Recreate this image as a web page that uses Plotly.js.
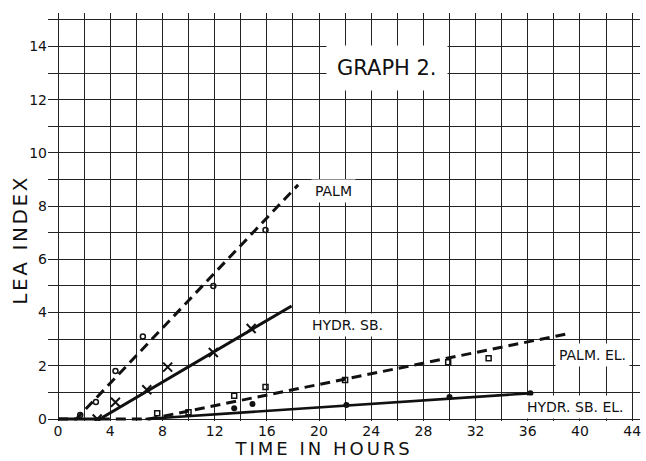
<!DOCTYPE html>
<html><head><meta charset="utf-8">
<script src="https://cdn.plot.ly/plotly-3.0.1.min.js"></script>
<style>
html,body{margin:0;padding:0;background:#fff}
#chart{width:646px;height:461px}
#chart .annotation[data-index="5"] text{letter-spacing:3px}
#chart .annotation[data-index="6"] text{letter-spacing:2.6px}
</style>
</head><body><div id="chart"></div>
<script>
// Observed points
var palmX = [1.7, 2.9, 4.4, 6.5, 11.9, 15.9];
var palmY = [0.15, 0.64, 1.8, 3.1, 5.0, 7.1];
var hydrSbX = [3.0, 4.4, 6.8, 8.4, 11.9, 14.8];
var hydrSbY = [0.0, 0.63, 1.1, 1.95, 2.5, 3.4];
var palmElX = [7.6, 10.0, 13.5, 15.9, 22.0, 29.9, 33.0];
var palmElY = [0.22, 0.25, 0.87, 1.2, 1.47, 2.13, 2.28];
var hydrSbElX = [13.5, 14.9, 22.1, 30.0, 36.2];
var hydrSbElY = [0.4, 0.56, 0.53, 0.83, 0.97];
// Fitted lines
var palmLineX = [0, 1.4, 18.4];
var palmLineY = [0, 0, 8.8];
var hydrSbLineX = [0, 3.2, 17.9];
var hydrSbLineY = [0, 0, 4.25];
var palmElLineX = [3.2, 7.0, 39.0];
var palmElLineY = [0, 0, 3.2];
var hydrSbElLineX = [6.7, 36.3];
var hydrSbElLineY = [0, 0.97];
// Ticks
var xTicks = [0, 4, 8, 12, 16, 20, 24, 28, 32, 36, 40, 44];
var xTickText = ["0", "4", "8", "12", "16", "20", "24", "28", "32", "36", "40", "44"];
var yTicks = [0, 2, 4, 6, 8, 10, 12, 14];
var yTickText = ["0", "2", "4", "6", "8", "10", "12", "14"];
// Labels
var seriesLabels = ["PALM", "HYDR. SB.", "PALM. EL.", "HYDR. SB. EL."];
var labelX = [19.4, 19.15, 38.1, 35.6];
var labelY = [8.57, 3.53, 2.4, 0.45];
var graphTitle = "GRAPH 2.";
var xTitle = "TIME IN HOURS";
var yTitle = "LEA INDEX";

var ink = "#111";
var traces = [
  {x: palmLineX, y: palmLineY, mode: "lines", line: {color: ink, width: 3, dash: "10px,6px"}},
  {x: hydrSbLineX, y: hydrSbLineY, mode: "lines", line: {color: ink, width: 3}},
  {x: palmElLineX, y: palmElLineY, mode: "lines", line: {color: ink, width: 3, dash: "10px,6px"}},
  {x: hydrSbElLineX, y: hydrSbElLineY, mode: "lines", line: {color: ink, width: 2.6}},
  {x: palmX, y: palmY, mode: "markers", marker: {symbol: "circle-open", size: 5, color: ink, line: {width: 1.5, color: ink}}},
  {x: hydrSbX, y: hydrSbY, mode: "markers", marker: {symbol: "x-thin-open", size: 9, color: ink, line: {width: 2, color: ink}}},
  {x: palmElX, y: palmElY, mode: "markers", marker: {symbol: "square-open", size: 5, color: ink, line: {width: 1.5, color: ink}}},
  {x: hydrSbElX, y: hydrSbElY, mode: "markers", marker: {symbol: "circle", size: 6, color: ink}}
];

var fontFam = "DejaVu Sans, Liberation Sans, sans-serif";
var annotations = seriesLabels.map(function(t, i) {
  return {x: labelX[i], y: labelY[i], xref: "x", yref: "y", text: t, showarrow: false,
          xanchor: "left", yanchor: "middle", bgcolor: "#fff", borderpad: 3,
          font: {family: fontFam, size: 14, color: ink}};
});
annotations.push({x: 25.2, y: 13.2, xref: "x", yref: "y", text: graphTitle, showarrow: false,
  xanchor: "center", yanchor: "middle", bgcolor: "#fff", borderpad: 10,
  font: {family: fontFam, size: 21, color: ink}});
annotations.push({x: 0.466, y: -0.068, xref: "paper", yref: "paper", text: xTitle, showarrow: false,
  xanchor: "center", yanchor: "middle", font: {family: fontFam, size: 18, color: ink}});
annotations.push({x: -0.047, y: 0.444, xref: "paper", yref: "paper", text: yTitle, showarrow: false,
  textangle: -90, xanchor: "center", yanchor: "middle", font: {family: fontFam, size: 20, color: ink}});

var layout = {
  width: 646, height: 461,
  margin: {l: 48, r: 6, t: 13, b: 40},
  paper_bgcolor: "#fff", plot_bgcolor: "#fff",
  showlegend: false,
  font: {family: fontFam, color: ink},
  xaxis: {
    range: [-0.77, 44.6], tickvals: xTicks, ticktext: xTickText,
    showgrid: true, gridcolor: "#222", gridwidth: 1, zeroline: false,
    showline: false, ticks: "", tickfont: {size: 14, family: fontFam},
    minor: {dtick: 2, tick0: 0, showgrid: true, gridcolor: "#222", gridwidth: 1}
  },
  yaxis: {
    range: [-0.075, 15.26], tickvals: yTicks, ticktext: yTickText,
    showgrid: true, gridcolor: "#222", gridwidth: 1, zeroline: false,
    showline: false, ticks: "", tickfont: {size: 14, family: fontFam},
    minor: {dtick: 1, tick0: 0, showgrid: true, gridcolor: "#222", gridwidth: 1}
  },
  annotations: annotations
};
Plotly.newPlot("chart", traces, layout, {displayModeBar: false, staticPlot: true});
</script></body></html>
